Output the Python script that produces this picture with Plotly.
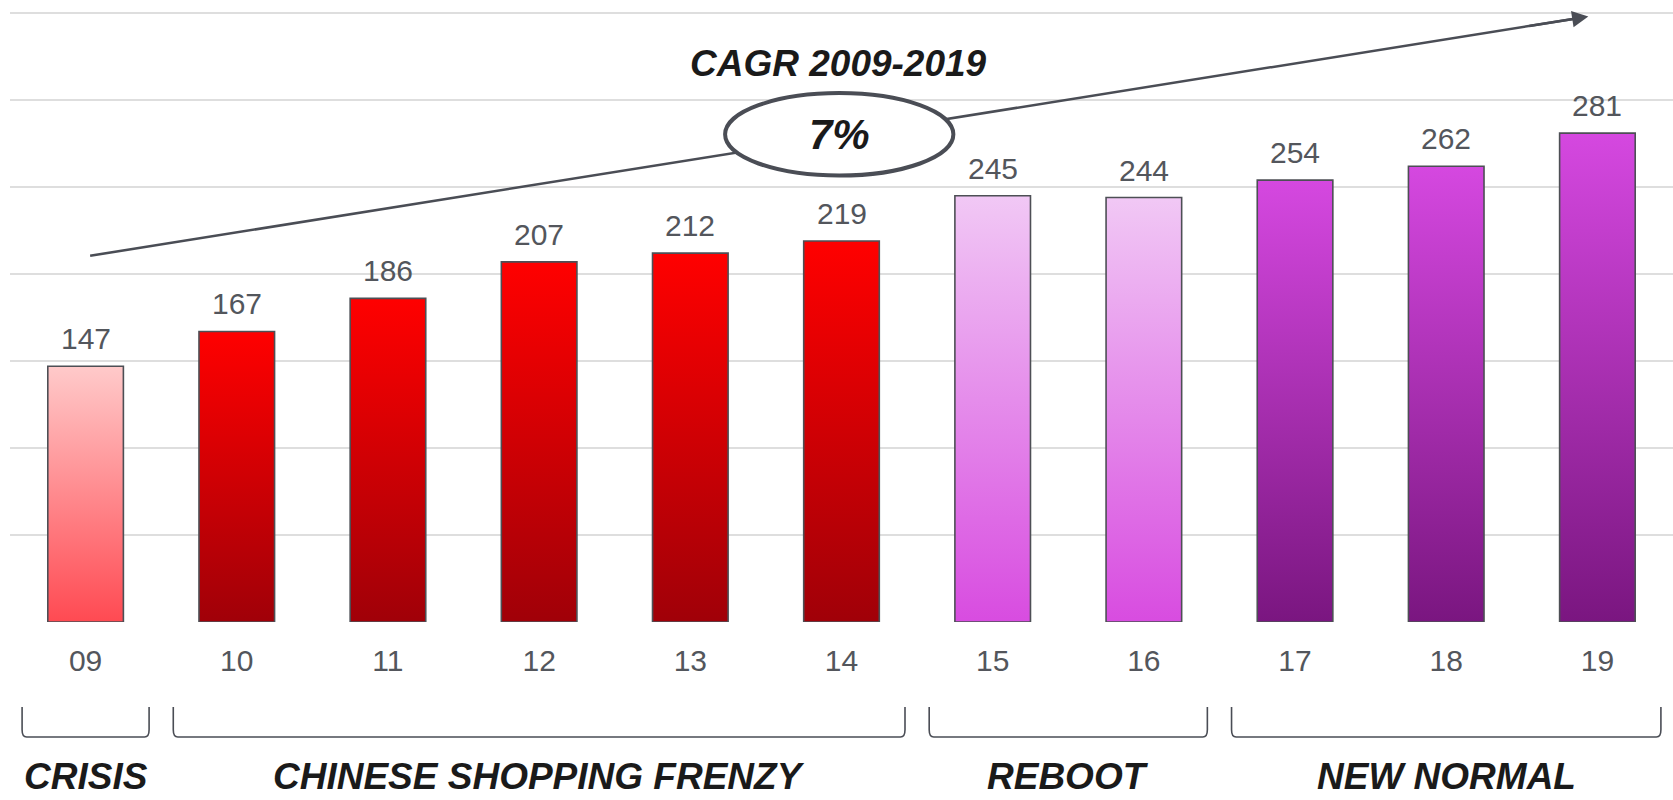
import plotly.graph_objects as go

# ---------------- data ----------------
years = ["09", "10", "11", "12", "13", "14", "15", "16", "17", "18", "19"]
values = [147, 167, 186, 207, 212, 219, 245, 244, 254, 262, 281]

group_names = ["CRISIS", "CHINESE SHOPPING FRENZY", "REBOOT", "NEW NORMAL"]
group_start = [0, 1, 6, 8]
group_end = [0, 5, 7, 10]

cagr_title = "CAGR 2009-2019"
cagr_value = "7%"

# ---------------- style ----------------
# (bottom colour, top colour) of the vertical gradient for each group
group_colors = [
    ("#ff4a52", "#ffcaca"),
    ("#a00008", "#ff0000"),
    ("#d84ce0", "#f1c8f5"),
    ("#7a1680", "#d548e0"),
]
FONT = "Liberation Sans, Arial, sans-serif"
DARK = "#4a4d55"
LABEL = "#53565c"
BAR_W = 0.5

fig = go.Figure()

idx = list(range(len(years)))
for g, (s, e) in enumerate(zip(group_start, group_end)):
    bottom, top = group_colors[g]
    for i in range(s, e + 1):
        v = values[i]
        fig.add_trace(go.Scatter(
            x=[i - BAR_W / 2, i - BAR_W / 2, i + BAR_W / 2, i + BAR_W / 2, i - BAR_W / 2],
            y=[0, v, v, 0, 0],
            mode="lines",
            fill="toself",
            fillgradient=dict(type="vertical", colorscale=[[0, bottom], [1, top]],
                              start=0, stop=v),
            line=dict(color="#4d4f55", width=1.6),
            hoverinfo="skip",
            showlegend=False,
        ))

# value labels
for i, v in zip(idx, values):
    fig.add_annotation(x=i, y=v, text=str(v), showarrow=False, yanchor="bottom",
                       yshift=9, font=dict(family=FONT, size=30, color=LABEL))

# CAGR arrow: line (below the ellipse) + arrowhead
x_a0, y_a0 = 0.03, 210.5
x_a1, y_a1 = 9.94, 348.0
fig.add_shape(type="line", x0=x_a0, y0=y_a0, x1=x_a1 - 0.05, y1=y_a1 - 0.7,
              xref="x", yref="y", line=dict(color=DARK, width=2.5))
fig.add_annotation(x=x_a1, y=y_a1, ax=x_a1 - 0.4, ay=y_a1 - 5.55, xref="x", yref="y",
                   axref="x", ayref="y", showarrow=True, arrowhead=2, arrowsize=1.3,
                   arrowwidth=2.5, arrowcolor=DARK, text="")
# ellipse
fig.add_shape(type="circle", x0=4.23, x1=5.74, y0=256.6, y1=304.0, xref="x", yref="y",
              fillcolor="white", line=dict(color=DARK, width=4))
fig.add_annotation(x=4.99, y=280, text="<b><i>" + cagr_value + "</i></b>", showarrow=False,
                   font=dict(family=FONT, size=42, color="#1a1a1a"))
fig.add_annotation(x=4.98, y=320.8, text="<b><i>" + cagr_title + "</i></b>", showarrow=False,
                   font=dict(family=FONT, size=37, color="#1a1a1a"))

# group brackets and labels
PAD = 0.42
y_top, y_bot = -0.1391, -0.1882
for name, s, e in zip(group_names, group_start, group_end):
    x0 = max(s - PAD, -0.49)
    x1 = min(e + PAD, 10.48)
    c = 0.03
    d = 0.012
    path = (f"M {x0},{y_top} L {x0},{y_bot + d} Q {x0},{y_bot} {x0 + c},{y_bot} "
            f"L {x1 - c},{y_bot} Q {x1},{y_bot} {x1},{y_bot + d} L {x1},{y_top}")
    fig.add_shape(type="path", path=path, xref="x", yref="paper",
                  line=dict(color=DARK, width=1.6))
    fig.add_annotation(x=(s + e) / 2, y=-0.2897, xref="x", yref="paper",
                       text="<b><i>" + name + "</i></b>", showarrow=False,
                       yanchor="bottom",
                       font=dict(family=FONT, size=37, color="#1a1a1a"))

fig.update_layout(
    width=1673, height=800,
    margin=dict(l=10, r=0, t=11, b=178),
    plot_bgcolor="white", paper_bgcolor="white",
    showlegend=False,
    xaxis=dict(range=[-0.5, 10.5], tickvals=idx, ticktext=years, showgrid=False,
               zeroline=False, showline=False, ticks="",
               tickfont=dict(family=FONT, size=30, color=LABEL),
               ticklabelstandoff=18, fixedrange=True),
    yaxis=dict(range=[0, 351.2], tickvals=[0, 50, 100, 150, 200, 250, 300, 350],
               showticklabels=False, showgrid=True, gridcolor="#dedede", gridwidth=1.5,
               zeroline=False, showline=False, ticks="", fixedrange=True),
)

fig.write_html("out.html", config={"displayModeBar": False},
               post_script="document.body.style.margin='0';")
